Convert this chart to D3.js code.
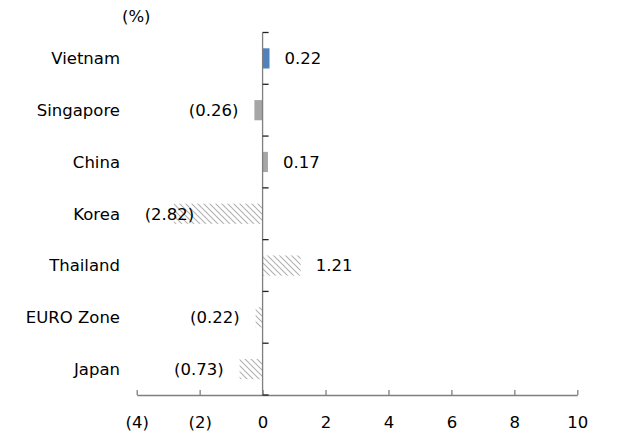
<!DOCTYPE html>
<html>
<head>
<meta charset="utf-8">
<script src="https://cdn.jsdelivr.net/npm/d3@7"></script>
<style>
  body { margin: 0; background: #fff; }
  text { font-family: "DejaVu Sans", Verdana, sans-serif; font-size: 16.5px; fill: #000; }
</style>
</head>
<body>
<svg id="chart" width="635" height="432"></svg>
<script>
const categories = ["Vietnam", "Singapore", "China", "Korea", "Thailand", "EURO Zone", "Japan"];
const values = [0.22, -0.26, 0.17, -2.82, 1.21, -0.22, -0.73];
// which fill each bar gets
const kinds = ["focus", "solid", "solid", "hatch", "hatch", "hatch", "hatch"];
const xTicks = [-4, -2, 0, 2, 4, 6, 8, 10];

const svg = d3.select("#chart");
const axisColor = "#7f7f7f";

const x = d3.scaleLinear().domain([-4, 10]).range([136.7, 577.3]);
const y = d3.scaleBand().domain(categories).range([32.5, 395]).padding(0);

const fmt = (v) => (v < 0 ? `(${d3.format(".2f")(-v)})` : d3.format(".2f")(v));
const fmtTick = (v) => (v < 0 ? `(${-v})` : `${v}`);

// hatch pattern for the lighter bars
const defs = svg.append("defs");
const pat = defs.append("pattern")
  .attr("id", "hatch")
  .attr("patternUnits", "userSpaceOnUse")
  .attr("width", 6).attr("height", 6);
pat.append("path")
  .attr("d", "M-1,-1 L7,7 M-4,2 L2,8 M4,-2 L8,2")
  .attr("stroke", "#b0b0b0")
  .attr("stroke-width", 1.1);

const fills = { focus: "#4f81bd", solid: "#a6a6a6", hatch: "url(#hatch)" };

const data = categories.map((c, i) => ({ c, v: values[i], k: kinds[i] }));

// bars
const barH = y.bandwidth() * 0.39;
svg.append("g").selectAll("rect")
  .data(data)
  .join("rect")
  .attr("x", (d) => x(Math.min(0, d.v)))
  .attr("width", (d) => Math.abs(x(d.v) - x(0)))
  .attr("y", (d) => y(d.c) + (y.bandwidth() - barH) / 2)
  .attr("height", barH)
  .attr("fill", (d) => fills[d.k]);

// x axis
const xAxis = svg.append("g")
  .attr("transform", "translate(0,395)")
  .call(d3.axisBottom(x).tickValues(xTicks).tickFormat(fmtTick).tickSizeInner(-5).tickSizeOuter(0).tickPadding(21));
xAxis.select(".domain").attr("stroke", axisColor).attr("stroke-width", 1.3);
xAxis.selectAll(".tick line").attr("stroke", axisColor).attr("stroke-width", 1.3);
xAxis.selectAll("text").attr("font-size", null).attr("font-family", null).attr("dy", "0.71em");

// y axis at zero, ticks between categories
const yEdges = categories.map((c) => y(c)).concat([y.range()[1]]);
svg.append("line")
  .attr("x1", x(0)).attr("x2", x(0))
  .attr("y1", y.range()[0]).attr("y2", y.range()[1])
  .attr("stroke", axisColor).attr("stroke-width", 1.3);
svg.append("g").selectAll("line")
  .data(yEdges)
  .join("line")
  .attr("x1", x(0)).attr("x2", x(0) + 6)
  .attr("y1", (d) => d).attr("y2", (d) => d)
  .attr("stroke", "#222").attr("stroke-width", 1.3);

// category names
svg.append("g").selectAll("text")
  .data(categories)
  .join("text")
  .attr("x", 120)
  .attr("y", (d) => y(d) + y.bandwidth() / 2)
  .attr("dy", "0.35em")
  .attr("text-anchor", "end")
  .text((d) => d);

// value labels, kept inside the plot on the left
const plotLeft = x.range()[0];
svg.append("g").selectAll("text")
  .data(data)
  .join("text")
  .attr("y", (d) => y(d.c) + y.bandwidth() / 2)
  .attr("dy", "0.35em")
  .text((d) => fmt(d.v))
  .each(function (d) {
    const t = d3.select(this);
    const w = this.getComputedTextLength();
    if (d.v >= 0) {
      t.attr("x", x(d.v) + 15);
    } else {
      const right = Math.max(x(d.v) - 16, plotLeft + 8 + w);
      t.attr("x", right - w);
    }
  });

svg.append("text")
  .attr("x", 122).attr("y", 16)
  .attr("dy", "0.35em")
  .text("(%)");
</script>
</body>
</html>
